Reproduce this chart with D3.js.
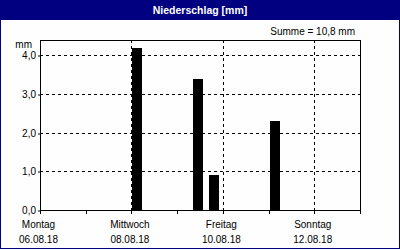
<!DOCTYPE html>
<html>
<head>
<meta charset="utf-8">
<style>
    body { margin: 0; background: #fff; }
    .lbl { font-family: 'Liberation Sans', Arial, sans-serif; font-size: 10px; fill: #000; }
    .title { font-family: 'Liberation Sans', Arial, sans-serif; font-size: 10.5px; font-weight: bold; fill: #fff; }
    .grid { stroke: #000; stroke-width: 1px; stroke-dasharray: 3,3; fill: none; }
    .box { stroke: #000; stroke-width: 1px; fill: none; }
    .bar { fill: #000; }
</style>
</head>
<body>
<svg id="chart" width="400" height="250"></svg>
<script src="https://d3js.org/d3.v7.min.js"></script>
<script>
    // data (8-hour rain sums)
    var barTimes = ['2018-08-08 00:00', '2018-08-09 08:00', '2018-08-09 16:00', '2018-08-11 00:00'];
    var barValues = [4.2, 3.4, 0.9, 2.3];
    var dayNames = ['Montag', 'Mittwoch', 'Freitag', 'Sonntag'];
    var dayDates = ['06.08.18', '08.08.18', '10.08.18', '12.08.18'];
    var yTicks = [0, 1, 2, 3, 4];
    var title = 'Niederschlag [mm]';
    var unit = 'mm';
    var sumText = 'Summe = 10,8 mm';

    var width = 400;
    var height = 250;
    var g_left = 40;
    var g_right = 360;
    var g_top = 40;
    var g_bottom = 210;

    var parse = d3.timeParse('%Y-%m-%d %H:%M');
    var parseDay = d3.timeParse('%d.%m.%y');
    var bars = barTimes.map(function(t, i) { return {t: parse(t), v: barValues[i]}; });

    var svg = d3.select('#chart');

    var x = d3.scaleTime()
        .domain([parseDay('06.08.18'), parseDay('13.08.18')])
        .range([g_left, g_right]);
    var y = d3.scaleLinear().domain([0, 4.4]).rangeRound([g_bottom, g_top]);

    // background, frame and title bar
    svg.append('rect').attr('x', 0).attr('y', 0).attr('width', width).attr('height', height)
        .attr('fill', '#fdfefd');
    svg.append('rect').attr('x', 0).attr('y', 0).attr('width', width).attr('height', 20)
        .attr('fill', '#000080');
    svg.append('rect').attr('x', 0.5).attr('y', 0.5).attr('width', 399).attr('height', 248)
        .attr('fill', 'none').attr('stroke', '#000080');
    svg.append('text').attr('class', 'title')
        .attr('x', width / 2).attr('y', 14)
        .style('text-anchor', 'middle')
        .text(title);

    svg.append('text').attr('class', 'lbl')
        .attr('x', 355).attr('y', 35)
        .style('text-anchor', 'end')
        .text(sumText);

    // grid
    yTicks.filter(function(v) { return v > 0; }).forEach(function(v) {
        svg.append('line').attr('class', 'grid')
            .attr('x1', g_left).attr('x2', g_right)
            .attr('y1', y(v) + 0.5).attr('y2', y(v) + 0.5);
    });
    dayDates.slice(1).forEach(function(d) {
        var px = Math.round(x(parseDay(d))) + 0.5;
        svg.append('line').attr('class', 'grid')
            .attr('x1', px).attr('x2', px)
            .attr('y1', g_top).attr('y2', g_bottom);
    });

    // bars
    var binMs = 8 * 3600 * 1000;
    svg.append('g').selectAll('rect')
        .data(bars)
        .join('rect')
        .attr('class', 'bar')
        .attr('x', function(d) { return Math.round(x(d.t)) + 1; })
        .attr('width', function(d) { return Math.round((x(new Date(+d.t + binMs)) - x(d.t)) * 0.66); })
        .attr('y', function(d) { return y(d.v); })
        .attr('height', function(d) { return g_bottom - y(d.v) + 1; });

    // axes
    var yAxis = d3.axisLeft(y).tickValues(yTicks).tickSize(2).tickPadding(2)
        .tickFormat(function(v) { return d3.format('.1f')(v).replace('.', ','); });
    var axisY = svg.append('g').attr('transform', 'translate(' + g_left + ',0)').call(yAxis);
    axisY.select('.domain').remove();
    axisY.selectAll('text').attr('class', 'lbl').attr('fill', null).attr('font-size', null).attr('font-family', null);
    axisY.selectAll('line').attr('transform', 'translate(0,0.5)');

    svg.append('text').attr('class', 'lbl')
        .attr('x', 32).attr('y', 48)
        .style('text-anchor', 'end')
        .text(unit);

    var xAxis = d3.axisBottom(x).ticks(d3.timeDay.every(1)).tickSize(4).tickFormat('');
    var axisX = svg.append('g').attr('transform', 'translate(0,' + g_bottom + ')').call(xAxis);
    axisX.select('.domain').remove();
    axisX.selectAll('.tick line').attr('transform', function() {
        var t = d3.select(this.parentNode).attr('transform');
        var tx = +t.match(/translate\(([^,]+)/)[1];
        return 'translate(' + (Math.round(tx - 0.5) + 0.5 - tx) + ',0)';
    });

    // plot box
    svg.append('rect').attr('class', 'box')
        .attr('x', g_left + 0.5).attr('y', g_top + 0.5)
        .attr('width', g_right - g_left).attr('height', g_bottom - g_top);

    // day labels
    dayDates.forEach(function(d, i) {
        var px = x(parseDay(d)) - 1.5;
        svg.append('text').attr('class', 'lbl')
            .attr('x', px).attr('y', 228)
            .style('text-anchor', 'middle')
            .text(dayNames[i]);
        svg.append('text').attr('class', 'lbl')
            .attr('x', px).attr('y', 243)
            .style('text-anchor', 'middle')
            .text(d);
    });
</script>
</body>
</html>
